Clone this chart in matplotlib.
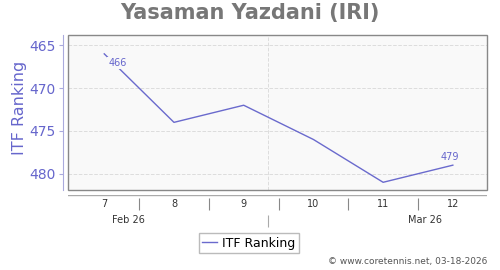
import matplotlib.pyplot as plt
from matplotlib.patches import Rectangle

weeks = [7, 8, 9, 10, 11, 12]
ranking = [466, 474, 472, 476, 481, 479]
week_labels = ['7', '8', '9', '10', '11', '12']
months = ['Feb 26', 'Mar 26']
month_pos = [7.35, 11.6]
month_break = 9.35

line_col = '#6a6acd'
text_col = '#6666cc'

fig = plt.figure(figsize=(5, 2.7), dpi=100)
ax = fig.add_axes([0.136, 0.2963, 0.838, 0.574])
ax.set_facecolor('#f9f9f9')

ax.plot(weeks, ranking, color=line_col, lw=1.0, label='ITF Ranking', zorder=3)
ax.text(weeks[0] + 0.19, ranking[0] + 1.1, str(ranking[0]), fontsize=7, color=text_col,
        ha='center', va='center', zorder=4,
        bbox=dict(boxstyle='square,pad=0.1', fc='#f9f9f9', ec='none'))
ax.text(weeks[-1] - 0.05, ranking[-1] - 1.0, str(ranking[-1]), fontsize=7, color=text_col,
        ha='center', va='center', zorder=4)

ax.set_xlim(6.48, 12.49)
ax.set_ylim(481.9, 463.8)
ax.set_yticks([465, 470, 475, 480])
ax.grid(axis='y', color='#dddddd', ls='--', lw=0.7)
ax.axvline(month_break, color='#dddddd', ls='--', lw=0.7)
ax.set_xticks([])

for s in ['top', 'right', 'bottom']:
    ax.spines[s].set_visible(False)
ax.spines['left'].set_position(('outward', 3.6))
ax.spines['left'].set_color('#aaaadd')
ax.add_patch(Rectangle((0, 0), 1, 1, transform=ax.transAxes, fill=False,
                       ec='#888888', lw=1.0, zorder=5, clip_on=False))
ax.tick_params(axis='y', colors='#aaaadd', labelcolor=text_col, labelsize=10,
               length=3, pad=2)
ax.set_ylabel('ITF Ranking', color=text_col, fontsize=11.5)
ax.yaxis.set_label_coords(-0.098, 0.53)

# lower date axis
ax2 = fig.add_axes([0.136, 0.1, 0.838, 0.1778])
ax2.set_xlim(6.48, 12.49)
ax2.set_ylim(0, 1)
ax2.axis('off')
ax2.axhline(1, color='#aaaaaa', lw=1.0)
for w in weeks[:-1]:
    ax2.vlines(w + 0.5, 0.69, 0.94, color='#888888', lw=0.8)
for w, lab in zip(weeks, week_labels):
    ax2.text(w, 0.81, lab, fontsize=7, color='#333333', ha='center', va='center')
for p, m in zip(month_pos, months):
    ax2.text(p, 0.48, m, fontsize=7, color='#333333', ha='center', va='center')
ax2.vlines(month_break, 0.33, 0.58, color='#aaaaaa', lw=0.8)

fig.text(0.5, 0.952, 'Yasaman Yazdani (IRI)', fontsize=15, fontweight='bold',
         color='#777777', ha='center', va='center')
fig.legend(loc='center', bbox_to_anchor=(0.498, 0.1), fontsize=9, frameon=True,
           fancybox=False, edgecolor='#aaaaaa', handlelength=1.2, handletextpad=0.4,
           borderpad=0.3)
fig.text(0.974, 0.03, '\u00a9 www.coretennis.net, 03-18-2026', fontsize=6.5,
         color='#555555', ha='right', va='center')

fig.savefig('out.png', dpi=100)
